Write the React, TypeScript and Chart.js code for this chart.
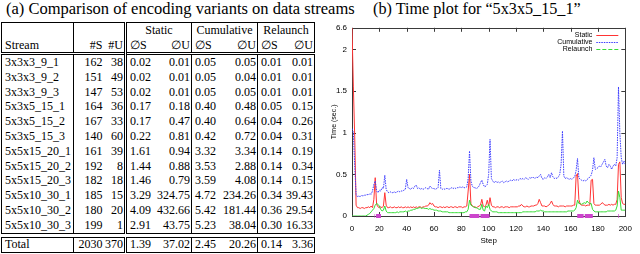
import React, { useEffect, useRef } from 'react';
import { Chart, registerables, LinearScale } from 'chart.js';

Chart.register(...registerables);

// ---------------- Table data ----------------
const streams = ['3x3x3_9_1', '3x3x3_9_2', '3x3x3_9_3', '5x3x5_15_1', '5x3x5_15_2', '5x3x5_15_3', '5x5x15_20_1', '5x5x15_20_2', '5x5x15_20_3', '5x5x10_30_1', '5x5x10_30_2', '5x5x10_30_3'];
const satCounts = ['162', '151', '147', '164', '167', '140', '161', '192', '182', '185', '180', '199'];
const unsatCounts = ['38', '49', '53', '36', '33', '60', '39', '8', '18', '15', '20', '1'];
const staticS = ['0.02', '0.02', '0.02', '0.17', '0.17', '0.22', '1.61', '1.44', '1.46', '3.29', '4.09', '2.91'];
const staticU = ['0.01', '0.01', '0.01', '0.18', '0.47', '0.81', '0.94', '0.88', '0.79', '324.75', '432.66', '43.75'];
const cumulativeS = ['0.05', '0.05', '0.05', '0.40', '0.40', '0.42', '3.32', '3.53', '3.59', '4.72', '5.42', '5.23'];
const cumulativeU = ['0.05', '0.04', '0.05', '0.48', '0.64', '0.72', '3.34', '2.88', '4.08', '234.26', '181.44', '38.04'];
const relaunchS = ['0.01', '0.01', '0.01', '0.05', '0.04', '0.04', '0.14', '0.14', '0.14', '0.34', '0.36', '0.30'];
const relaunchU = ['0.01', '0.01', '0.01', '0.15', '0.26', '0.31', '0.19', '0.34', '0.15', '39.43', '29.54', '16.33'];
const totalRow = ['Total', '2030', '370', '1.39', '37.02', '2.45', '20.26', '0.14', '3.36'];
const groupNames = ['Static', 'Cumulative', 'Relaunch'];

// ---------------- Chart data ----------------
const staticTimes = [
  6.6, 1.55, 0.95, 0.13, 0.1, 0.1, 0.09, 0.1, 0.1, 0.09,
  0.1, 0.1, 0.11, 0.1, 0.12, 0.1, 0.2, 0.46, 0.14, 0.11,
  0.1, 0.11, 0.1, 0.12, 0.28, 0.13, 0.1, 0.1, 0.11, 0.1,
  0.1, 0.11, 0.1, 0.1, 0.11, 0.1, 0.11, 0.1, 0.1, 0.11,
  0.1, 0.11, 0.1, 0.11, 0.1, 0.11, 0.1, 0.11, 0.1, 0.11,
  0.11, 0.1, 0.11, 0.11, 0.12, 0.12, 0.13, 0.16, 0.14, 0.15,
  0.12, 0.11, 0.11, 0.1, 0.11, 0.11, 0.1, 0.11, 0.1, 0.11,
  0.11, 0.1, 0.11, 0.11, 0.1, 0.11, 0.11, 0.1, 0.11, 0.11,
  0.11, 0.1, 0.11, 0.11, 0.12, 0.3, 0.5, 0.15, 0.12, 0.11,
  0.11, 0.1, 0.11, 0.12, 0.13, 0.2, 0.12, 0.11, 0.13, 0.19,
  0.12, 0.22, 0.13, 0.11, 0.11, 0.1, 0.11, 0.11, 0.1, 0.11,
  0.11, 0.1, 0.11, 0.11, 0.11, 0.1, 0.11, 0.11, 0.11, 0.11,
  0.11, 0.11, 0.12, 0.12, 0.14, 0.12, 0.11, 0.11, 0.12, 0.11,
  0.11, 0.12, 0.12, 0.12, 0.13, 0.13, 0.15, 0.2, 0.16, 0.12,
  0.12, 0.12, 0.11, 0.12, 0.13, 0.15, 0.18, 0.14, 0.12, 0.12,
  0.12, 0.11, 0.12, 0.12, 0.12, 0.12, 0.11, 0.12, 0.12, 0.12,
  0.12, 0.12, 0.13, 0.13, 0.48, 0.51, 0.2, 0.14, 0.13, 0.13,
  0.13, 0.12, 0.13, 0.13, 0.13, 0.43, 0.44, 0.15, 0.13, 0.13,
  0.13, 0.13, 0.14, 0.16, 0.15, 0.13, 0.13, 0.13, 0.14, 0.13,
  0.14, 0.13, 0.14, 0.14, 0.2, 0.62, 0.65, 0.22, 0.15, 0.14,
  0.14,
];
const cumulativeTimes = [
  1.05, 1.0, 0.6, 0.26, 0.23, 0.24, 0.23, 0.25, 0.24, 0.25,
  0.25, 0.26, 0.25, 0.27, 0.26, 0.3, 0.38, 0.42, 0.3, 0.28,
  0.31, 0.3, 0.34, 0.33, 0.49, 0.32, 0.29, 0.28, 0.29, 0.28,
  0.28, 0.29, 0.28, 0.29, 0.3, 0.29, 0.3, 0.3, 0.31, 0.32,
  0.44, 0.34, 0.33, 0.32, 0.34, 0.33, 0.36, 0.37, 0.33, 0.34,
  0.32, 0.33, 0.32, 0.33, 0.34, 0.33, 0.32, 0.36, 0.34, 0.33,
  0.33, 0.32, 0.33, 0.34, 0.55, 0.33, 0.32, 0.33, 0.32, 0.33,
  0.33, 0.32, 0.33, 0.34, 0.33, 0.34, 0.33, 0.34, 0.34, 0.35,
  0.34, 0.35, 0.34, 0.34, 0.35, 0.45, 0.78, 0.42, 0.36, 0.34,
  0.34, 0.33, 0.34, 0.36, 0.4, 0.43, 0.38, 0.35, 0.36, 0.38,
  0.5, 0.92, 0.45, 0.42, 0.4, 0.42, 0.4, 0.41, 0.4, 0.41,
  0.42, 0.4, 0.41, 0.42, 0.41, 0.42, 0.43, 0.42, 0.44, 0.43,
  0.43, 0.44, 0.43, 0.45, 0.44, 0.45, 0.44, 0.46, 0.45, 0.44,
  0.46, 0.45, 0.47, 0.46, 0.45, 0.47, 0.46, 0.48, 0.5, 0.45,
  0.44, 0.46, 0.45, 0.47, 0.5, 0.46, 0.52, 0.47, 0.45, 0.46,
  0.45, 0.47, 0.5, 0.62, 1.02, 0.48, 0.45, 0.46, 0.45, 0.44,
  0.45, 0.44, 0.46, 0.47, 0.55, 0.69, 0.46, 0.44, 0.43, 0.42,
  0.43, 0.42, 0.44, 0.45, 0.47, 0.49, 0.55, 0.7, 0.56, 0.57,
  0.58, 0.6, 0.59, 0.62, 0.65, 0.68, 0.6, 0.58, 0.62, 0.6,
  0.56, 0.6, 0.62, 0.6, 0.7, 1.55, 1.0, 0.7, 0.62, 0.66,
  0.62,
];
const relaunchTimes = [
  0, 0, 0, 0, 0, 0, 0, 0, 0, 0,
  0, 0.01, 0.02, 0.03, 0.05, 0.07, 0.09, 0.13, 0.15, 0.14,
  0.12, 0.08, 0.06, 0.07, 0.12, 0.06, 0.04, 0.04, 0.04, 0.04,
  0.04, 0.04, 0.04, 0.05, 0.04, 0.05, 0.05, 0.05, 0.05, 0.06,
  0.05, 0.06, 0.06, 0.07, 0.07, 0.08, 0.08, 0.09, 0.09, 0.1,
  0.1, 0.09, 0.1, 0.09, 0.09, 0.09, 0.08, 0.09, 0.08, 0.08,
  0.07, 0.07, 0.07, 0.06, 0.06, 0.06, 0.05, 0.05, 0.05, 0.05,
  0.05, 0.04, 0.04, 0.04, 0.04, 0.04, 0.04, 0.04, 0.04, 0.04,
  0.04, 0.04, 0.04, 0.05, 0.05, 0.08, 0.19, 0.13, 0.12, 0.11,
  0.1, 0.1, 0.09, 0.08, 0.08, 0.14, 0.07, 0.06, 0.12, 0.1,
  0.14, 0.08, 0.06, 0.05, 0.05, 0.05, 0.05, 0.04, 0.04, 0.04,
  0.04, 0.04, 0.04, 0.04, 0.04, 0.04, 0.04, 0.04, 0.04, 0.04,
  0.04, 0.04, 0.04, 0.04, 0.04, 0.05, 0.05, 0.05, 0.05, 0.05,
  0.05, 0.05, 0.05, 0.05, 0.05, 0.06, 0.06, 0.06, 0.07, 0.06,
  0.06, 0.05, 0.05, 0.05, 0.05, 0.05, 0.05, 0.05, 0.05, 0.05,
  0.05, 0.05, 0.05, 0.05, 0.05, 0.05, 0.05, 0.05, 0.06, 0.06,
  0.06, 0.06, 0.06, 0.07, 0.1, 0.19, 0.15, 0.15, 0.14, 0.15,
  0.16, 0.15, 0.18, 0.16, 0.15, 0.15, 0.08, 0.06, 0.05, 0.05,
  0.05, 0.05, 0.05, 0.05, 0.05, 0.05, 0.05, 0.06, 0.06, 0.06,
  0.06, 0.06, 0.06, 0.07, 0.12, 0.3, 0.22, 0.07, 0.07, 0.07,
  0.07,
];
// step ranges of the magenta markers drawn on the zero line
const markerStarts = [16.5, 17.6, 24.2, 86, 94, 164.8, 170.3, 194.9];
const markerEnds = [16.9, 21.2, 24.6, 93.2, 100.6, 169.5, 176.2, 195.4];

const xTicks = [0, 20, 40, 60, 80, 100, 120, 140, 160, 180, 200];
const yTicks = [0, 0.5, 1, 1.5, 2, 6.6];
const Y_BREAK = 2;
const Y_TOP = 6.6;
const BREAK_SPAN = 0.26;

function warp(v: number) {
  return v <= Y_BREAK ? v : Y_BREAK + ((v - Y_BREAK) * BREAK_SPAN) / (Y_TOP - Y_BREAK);
}
function unwarp(w: number) {
  return w <= Y_BREAK ? w : Y_BREAK + ((w - Y_BREAK) * (Y_TOP - Y_BREAK)) / BREAK_SPAN;
}

class BrokenLinearScale extends LinearScale {
  static id = 'brokenLinear';
  static defaults = {};
  getPixelForValue(value: any) {
    if (value === null || value === undefined || isNaN(value)) return NaN;
    const lo = warp(this.min);
    const hi = warp(this.max);
    return this.getPixelForDecimal((warp(value) - lo) / (hi - lo));
  }
  getValueForPixel(pixel: number) {
    const lo = warp(this.min);
    const hi = warp(this.max);
    return unwarp(lo + this.getDecimalForPixel(pixel) * (hi - lo));
  }
}
Chart.register(BrokenLinearScale as any);

const RED = '#ff3434';
const BLUE = '#3c3cff';
const GREEN = '#36dc36';
const MAGENTA = '#cc44cc';
const AXIS = '#3a3a3a';
const SANS = '"Liberation Sans", Arial, sans-serif';
const SERIF = '"Liberation Serif", "Times New Roman", serif';

const frame = {
  id: 'gnuplotFrame',
  beforeDatasetsDraw(chart: any) {
    const { ctx, chartArea, scales } = chart;
    const { left, right, top, bottom } = chartArea;
    ctx.save();
    ctx.strokeStyle = AXIS;
    ctx.lineWidth = 1;
    ctx.strokeRect(Math.round(left) + 0.5, Math.round(top) + 0.5, Math.round(right - left), Math.round(bottom - top));
    const tl = 4;
    ctx.beginPath();
    for (const v of yTicks) {
      const py = Math.round(scales.y.getPixelForValue(v)) + 0.5;
      ctx.moveTo(left, py); ctx.lineTo(left + tl, py);
      ctx.moveTo(right, py); ctx.lineTo(right - tl, py);
    }
    for (const v of xTicks) {
      const px = Math.round(scales.x.getPixelForValue(v)) + 0.5;
      ctx.moveTo(px, bottom); ctx.lineTo(px, bottom - tl);
      ctx.moveTo(px, top); ctx.lineTo(px, top + tl);
    }
    ctx.stroke();
    ctx.restore();
  },
  afterDraw(chart: any) {
    const { ctx, chartArea } = chart;
    const items = [
      { label: 'Static', color: RED, dash: [] as number[] },
      { label: 'Cumulative', color: BLUE, dash: [1.5, 1] },
      { label: 'Relaunch', color: GREEN, dash: [4, 2] },
    ];
    ctx.save();
    ctx.font = `7px ${SANS}`;
    ctx.textAlign = 'right';
    ctx.textBaseline = 'middle';
    items.forEach((it, i) => {
      const y = chartArea.top + 7 + i * 7.2;
      ctx.fillStyle = '#000';
      ctx.fillText(it.label, chartArea.right - 33, y);
      ctx.strokeStyle = it.color;
      ctx.lineWidth = 1;
      ctx.setLineDash(it.dash);
      ctx.beginPath();
      ctx.moveTo(chartArea.right - 29, Math.round(y) + 0.5);
      ctx.lineTo(chartArea.right - 7, Math.round(y) + 0.5);
      ctx.stroke();
    });
    ctx.restore();
  },
};

function TimePlot() {
  const ref = useRef<HTMLCanvasElement | null>(null);
  useEffect(() => {
    if (!ref.current) return;
    const toPoints = (arr: number[]) => arr.map((v, i) => ({ x: i, y: v }));
    const markerPoints: any[] = [];
    markerStarts.forEach((s, i) => {
      markerPoints.push({ x: s, y: 0 }, { x: markerEnds[i], y: 0 }, { x: markerEnds[i] + 0.05, y: null });
    });
    const tickFont = { family: SANS, size: 8 };
    const chart = new Chart(ref.current, {
      type: 'line',
      data: {
        datasets: [
          { label: 'Relaunch', data: toPoints(relaunchTimes), borderColor: GREEN, borderWidth: 1 },
          { label: 'Cumulative', data: toPoints(cumulativeTimes), borderColor: BLUE, borderWidth: 1, borderDash: [1.5, 1] },
          { label: 'Static', data: toPoints(staticTimes), borderColor: RED, borderWidth: 1 },
          { label: 'marker', data: markerPoints, borderColor: MAGENTA, borderWidth: 4, spanGaps: false, clip: false, borderCapStyle: 'butt' },
        ] as any,
      },
      options: {
        animation: false,
        responsive: false,
        maintainAspectRatio: false,
        layout: { padding: { top: 6, right: 8, left: 0, bottom: 0 } },
        plugins: { legend: { display: false }, tooltip: { enabled: false } },
        elements: { point: { radius: 0 }, line: { tension: 0 } },
        scales: {
          x: {
            type: 'linear',
            min: 0,
            max: 200,
            afterBuildTicks: (s: any) => { s.ticks = xTicks.map((v) => ({ value: v })); },
            ticks: { font: tickFont, color: '#000', padding: 8, maxRotation: 0, callback: (v: any) => String(v) },
            grid: { display: false, drawTicks: false },
            border: { display: false },
            title: { display: true, text: 'Step', font: tickFont, color: '#000', padding: { top: 0, bottom: 8 } },
            afterFit: (s: any) => { s.height = 38; },
          },
          y: {
            type: 'brokenLinear',
            min: 0,
            max: Y_TOP,
            afterBuildTicks: (s: any) => { s.ticks = yTicks.map((v) => ({ value: v })); },
            ticks: { font: tickFont, color: '#000', padding: 5, callback: (v: any) => String(v) },
            grid: { display: false, drawTicks: false },
            border: { display: false },
            title: { display: true, text: 'Time (sec.)', font: { family: SANS, size: 7 }, color: '#000', padding: 0 },
            afterFit: (s: any) => { s.width = 22; },
          } as any,
        },
      },
      plugins: [frame],
    });
    return () => chart.destroy();
  }, []);
  return <canvas ref={ref} width={310} height={236} style={{ position: 'absolute', left: 330, top: 18, width: 310, height: 236 }} />;
}

const colWidths = [72, 30, 22, 31, 35, 30, 36, 27, 30];

function cellBorder(col: number): React.CSSProperties {
  if (col === 0) return { borderRight: '1px solid #000' };
  if (col === 2) return { borderRight: '3px double #000' };
  if (col === 4 || col === 6) return { borderRight: '1px solid #000' };
  return {};
}
function cellAlign(col: number): 'left' | 'right' {
  if (col === 0) return 'left';
  if (col === 1 || col === 2) return 'right';
  return col % 2 === 1 ? 'left' : 'right';
}

function Colgroup() {
  return (
    <colgroup>
      {colWidths.map((w, i) => <col key={i} style={{ width: w }} />)}
    </colgroup>
  );
}

function DataTable() {
  const tableStyle: React.CSSProperties = {
    borderCollapse: 'collapse',
    tableLayout: 'fixed',
    width: 313,
    fontFamily: SERIF,
    fontSize: 12,
    border: '1px solid #000',
    color: '#000',
  };
  const td = (col: number, text: string, h: number, key: any) => (
    <td key={key} style={{ ...cellBorder(col), textAlign: cellAlign(col), padding: cellAlign(col) === 'left' ? '0 0 0 3px' : '0 1px 0 0', height: h, lineHeight: `${h}px`, whiteSpace: 'nowrap', overflow: 'visible' }}>{text}</td>
  );
  const sub = ['Stream', '#S', '#U', '∅S', '∅U', '∅S', '∅U', '∅S', '∅U'];
  const rows = streams.map((s, i) => [s, satCounts[i], unsatCounts[i], staticS[i], staticU[i], cumulativeS[i], cumulativeU[i], relaunchS[i], relaunchU[i]]);
  return (
    <>
      <table style={{ ...tableStyle, position: 'absolute', left: 1, top: 22 }}>
        <Colgroup />
        <thead>
          <tr>
            {td(0, '', 14.5, 'a')}
            <td colSpan={2} style={{ ...cellBorder(2), height: 14.5, padding: 0 }} />
            {groupNames.map((g, gi) => (
              <td key={g} colSpan={2} style={{ ...(gi < 2 ? { borderRight: '1px solid #000' } : {}), textAlign: 'center', padding: 0, height: 14.5, lineHeight: '14.5px' }}>{g}</td>
            ))}
          </tr>
          <tr style={{ borderBottom: '3px double #000' }}>
            {sub.map((t, c) => td(c, t, 14.5, c))}
          </tr>
        </thead>
        <tbody>
          {rows.map((r, ri) => (
            <tr key={ri}>{r.map((t, c) => td(c, t, 14.8, c))}</tr>
          ))}
        </tbody>
      </table>
      <table style={{ ...tableStyle, position: 'absolute', left: 1, top: 237 }}>
        <Colgroup />
        <tbody>
          <tr>{totalRow.map((t, c) => td(c, t, 13.5, c))}</tr>
        </tbody>
      </table>
    </>
  );
}

export default function App() {
  return (
    <div style={{ position: 'absolute', left: 0, top: 0, width: 640, height: 254, background: '#fff', overflow: 'hidden' }}>
      <div style={{ position: 'absolute', left: 0, top: 0, width: 370, fontFamily: SERIF, fontSize: 16.5, lineHeight: '18px', paddingLeft: 6, whiteSpace: 'nowrap' }}>
        (a) Comparison of encoding variants on data streams
      </div>
      <div style={{ position: 'absolute', left: 373, top: 0, fontFamily: SERIF, fontSize: 16.2, lineHeight: '18px', whiteSpace: 'nowrap' }}>
        (b) Time plot for “5x3x5_15_1”
      </div>
      <DataTable />
      <TimePlot />
    </div>
  );
}
